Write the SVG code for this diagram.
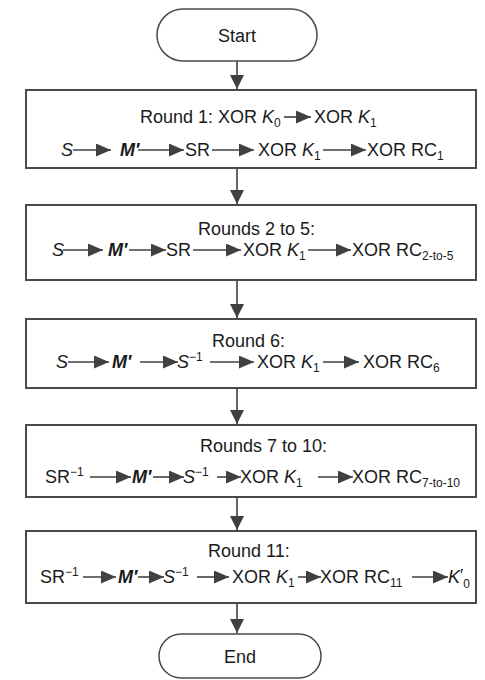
<svg xmlns="http://www.w3.org/2000/svg" width="485" height="680" viewBox="0 0 485 680">
  <defs>
    <marker id="ah" markerUnits="userSpaceOnUse" markerWidth="16" markerHeight="13" refX="15" refY="6.5" orient="auto">
      <path d="M0,0 L15,6.5 L0,13 Z" fill="#404040"/>
    </marker>
    <marker id="ahv" markerUnits="userSpaceOnUse" markerWidth="15" markerHeight="14" refX="14" refY="7" orient="auto">
      <path d="M0,0 L14,7 L0,14 Z" fill="#404040"/>
    </marker>
  </defs>
  <style>
    .box { fill: #ffffff; stroke: #4a4a4a; stroke-width: 2; }
    .term { fill: #ffffff; stroke: #4a4a4a; stroke-width: 1.5; }
    text { font-family: "Liberation Sans", Arial, sans-serif; font-size: 18px; fill: #1a1a1a; }
    .c { text-anchor: middle; }
    .i { font-style: italic; }
    .bi { font-style: italic; font-weight: bold; }
    .sub { font-size: 12px; }
    .flow { stroke: #404040; stroke-width: 1.6; fill: none; marker-end: url(#ah); }
    .down { stroke: #404040; stroke-width: 1.6; fill: none; marker-end: url(#ahv); }
  </style>

  <!-- vertical connectors between stages -->
  <g id="connectors">
    <line class="down" x1="237" y1="61" x2="237" y2="89"/>
    <line class="down" x1="237" y1="168" x2="237" y2="204"/>
    <line class="down" x1="237" y1="280" x2="237" y2="318"/>
    <line class="down" x1="237" y1="388" x2="237" y2="424"/>
    <line class="down" x1="237" y1="497" x2="237" y2="530"/>
    <line class="down" x1="237" y1="603" x2="237" y2="633"/>
  </g>

  <g id="start">
    <rect class="term" x="157" y="9" width="160" height="52" rx="26"/>
    <text class="c" x="237" y="42">Start</text>
  </g>

  <g id="round1">
    <rect class="box" x="26" y="90" width="450" height="78"/>
    <text x="140" y="123">Round 1: XOR <tspan class="i">K</tspan><tspan class="sub" dy="4">0</tspan></text>
    <line class="flow" x1="284" y1="117" x2="311" y2="117"/>
    <text x="314" y="123">XOR <tspan class="i">K</tspan><tspan class="sub" dy="4">1</tspan></text>
    <text class="i" x="61" y="156">S</text>
    <line class="flow" x1="73" y1="150" x2="111" y2="150"/>
    <text class="bi" x="120" y="156">M′</text>
    <line class="flow" x1="138" y1="150" x2="184" y2="150"/>
    <text x="185" y="156">SR</text>
    <line class="flow" x1="212" y1="150" x2="254" y2="150"/>
    <text x="258" y="156">XOR <tspan class="i">K</tspan><tspan class="sub" dy="4">1</tspan></text>
    <line class="flow" x1="323" y1="150" x2="366" y2="150"/>
    <text x="367" y="156">XOR RC<tspan class="sub" dy="4">1</tspan></text>
  </g>

  <g id="rounds2to5">
    <rect class="box" x="26" y="205" width="450" height="75"/>
    <text x="198" y="235">Rounds 2 to 5:</text>
    <text class="i" x="52" y="256">S</text>
    <line class="flow" x1="63" y1="250" x2="103" y2="250"/>
    <text class="bi" x="108" y="256">M′</text>
    <line class="flow" x1="129" y1="250" x2="166" y2="250"/>
    <text x="166" y="256">SR</text>
    <line class="flow" x1="193" y1="250" x2="241" y2="250"/>
    <text x="243" y="256">XOR <tspan class="i">K</tspan><tspan class="sub" dy="4">1</tspan></text>
    <line class="flow" x1="308" y1="250" x2="351" y2="250"/>
    <text x="352" y="256">XOR RC<tspan class="sub" dy="4">2-to-5</tspan></text>
  </g>

  <g id="round6">
    <rect class="box" x="26" y="319" width="450" height="69"/>
    <text x="212" y="347">Round 6:</text>
    <text class="i" x="56" y="368">S</text>
    <line class="flow" x1="68" y1="362" x2="109" y2="362"/>
    <text class="bi" x="112" y="368">M′</text>
    <line class="flow" x1="140" y1="362" x2="178" y2="362"/>
    <text x="177" y="368"><tspan class="i">S</tspan><tspan class="sub" dy="-7">−1</tspan></text>
    <line class="flow" x1="210" y1="362" x2="254" y2="362"/>
    <text x="257" y="368">XOR <tspan class="i">K</tspan><tspan class="sub" dy="4">1</tspan></text>
    <line class="flow" x1="323" y1="362" x2="359" y2="362"/>
    <text x="363" y="368">XOR RC<tspan class="sub" dy="4">6</tspan></text>
  </g>

  <g id="rounds7to10">
    <rect class="box" x="26" y="425" width="450" height="72"/>
    <text x="200" y="452">Rounds 7 to 10:</text>
    <text x="45" y="483">SR<tspan class="sub" dy="-7">−1</tspan></text>
    <line class="flow" x1="90" y1="477" x2="131" y2="477"/>
    <text class="bi" x="132" y="483">M′</text>
    <line class="flow" x1="153" y1="477" x2="184" y2="477"/>
    <text x="183" y="483"><tspan class="i">S</tspan><tspan class="sub" dy="-7">−1</tspan></text>
    <line class="flow" x1="217" y1="477" x2="241" y2="477"/>
    <text x="240" y="483">XOR <tspan class="i">K</tspan><tspan class="sub" dy="4">1</tspan></text>
    <line class="flow" x1="318" y1="477" x2="353" y2="477"/>
    <text x="352" y="483">XOR RC<tspan class="sub" dy="4">7-to-10</tspan></text>
  </g>

  <g id="round11">
    <rect class="box" x="26" y="531" width="450" height="72"/>
    <text x="208" y="557">Round 11:</text>
    <text x="40" y="583">SR<tspan class="sub" dy="-7">−1</tspan></text>
    <line class="flow" x1="83" y1="577" x2="116" y2="577"/>
    <text class="bi" x="118" y="583">M′</text>
    <line class="flow" x1="138" y1="577" x2="164" y2="577"/>
    <text x="163" y="583"><tspan class="i">S</tspan><tspan class="sub" dy="-7">−1</tspan></text>
    <line class="flow" x1="197" y1="577" x2="229" y2="577"/>
    <text x="232" y="583">XOR <tspan class="i">K</tspan><tspan class="sub" dy="4">1</tspan></text>
    <line class="flow" x1="298" y1="577" x2="321" y2="577"/>
    <text x="320" y="583">XOR RC<tspan class="sub" dy="4">11</tspan></text>
    <line class="flow" x1="412" y1="577" x2="448" y2="577"/>
    <text x="448" y="583"><tspan class="i">K</tspan><tspan font-size="17" dy="-2">′</tspan><tspan class="sub" dy="7">0</tspan></text>
  </g>

  <g id="end">
    <rect class="term" x="159" y="634" width="162" height="44" rx="22"/>
    <text class="c" x="240" y="663">End</text>
  </g>
</svg>
